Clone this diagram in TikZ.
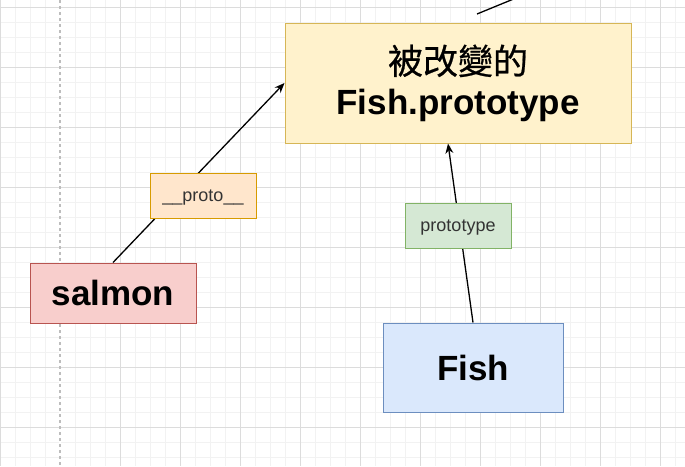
\documentclass[tikz,border=0pt]{standalone}
\usepackage{fontspec}
\setmainfont{Liberation Sans}
\newfontfamily\cjk[FakeBold=0.6]{Noto Sans CJK TC}
\usetikzlibrary{arrows.meta}
\definecolor{minorgrid}{HTML}{F2F2F2}
\definecolor{majorgrid}{HTML}{DCDCDC}
\definecolor{dashgray}{HTML}{BDBDBD}
\definecolor{yfill}{HTML}{FFF2CC}
\definecolor{ydraw}{HTML}{D6B656}
\definecolor{rfill}{HTML}{F8CECC}
\definecolor{rdraw}{HTML}{B85450}
\definecolor{bfill}{HTML}{DAE8FC}
\definecolor{bdraw}{HTML}{6C8EBF}
\definecolor{ofill}{HTML}{FFE6CC}
\definecolor{odraw}{HTML}{D79B00}
\definecolor{gfill}{HTML}{D5E8D4}
\definecolor{gdraw}{HTML}{82B366}
\definecolor{labeltext}{HTML}{333333}
\tikzset{
  box/.style={rectangle, inner sep=0pt, line width=1pt, font=\fontsize{35}{40}\selectfont\bfseries, align=center},
  lbl/.style={rectangle, inner sep=0pt, line width=1pt, minimum width=106pt, minimum height=45pt, text=labeltext, font=\fontsize{18}{20}\selectfont, text height=15pt, text depth=3.8pt},
  arr/.style={line width=1.3pt, -{Stealth[length=10pt,width=8pt]}},
  plain/.style={line width=1.3pt}
}
\begin{document}
\begin{tikzpicture}[x=1pt,y=-1pt]
\useasboundingbox (0,0) rectangle (685,466);
\clip (0,0) rectangle (685,466);
\fill[white] (0,0) rectangle (685,466);
% grid
\foreach \i in {0,...,46} {
  \draw[minorgrid, line width=1pt] (\i*15,0) -- (\i*15,466);
}
\foreach \j in {0,...,31} {
  \draw[minorgrid, line width=1pt] (0,7+\j*15) -- (685,7+\j*15);
}
\foreach \i in {0,...,11} {
  \draw[majorgrid, line width=1pt] (\i*60,0) -- (\i*60,466);
}
\foreach \j in {0,...,7} {
  \draw[majorgrid, line width=1pt] (0,7+\j*60) -- (685,7+\j*60);
}
\fill[white] (59,0) rectangle (61,466);
\draw[dashgray, line width=1.2pt, dash pattern=on 3pt off 3pt] (60,0) -- (60,466);

% nodes
\node[box, fill=yfill, draw=ydraw, minimum width=346pt, minimum height=120pt] (proto) at (458,83)
  {{\cjk\mdseries 被改變的}\\[0pt]Fish.prototype};
\node[box, fill=rfill, draw=rdraw, minimum width=166pt, minimum height=60pt] (salmon) at (113,293) {salmon};
\node[box, fill=bfill, draw=bdraw, minimum width=180pt, minimum height=89pt] (fish) at (473,367.5) {Fish};

% connectors
\coordinate (top1) at (477,14);
\coordinate (top2) at (516,-2);
\draw[plain] (top1) -- (top2);
\draw[arr] (salmon.north) -- (proto.west);
\draw[arr] (fish.north) -- ([xshift=-10pt]proto.south);

% labels
\node[lbl, fill=ofill, draw=odraw] (l1) at (203,195.5) {\_\_proto\_\_};
\node[lbl, fill=gfill, draw=gdraw] (l2) at (458,225.5) {prototype};
\end{tikzpicture}
\end{document}
